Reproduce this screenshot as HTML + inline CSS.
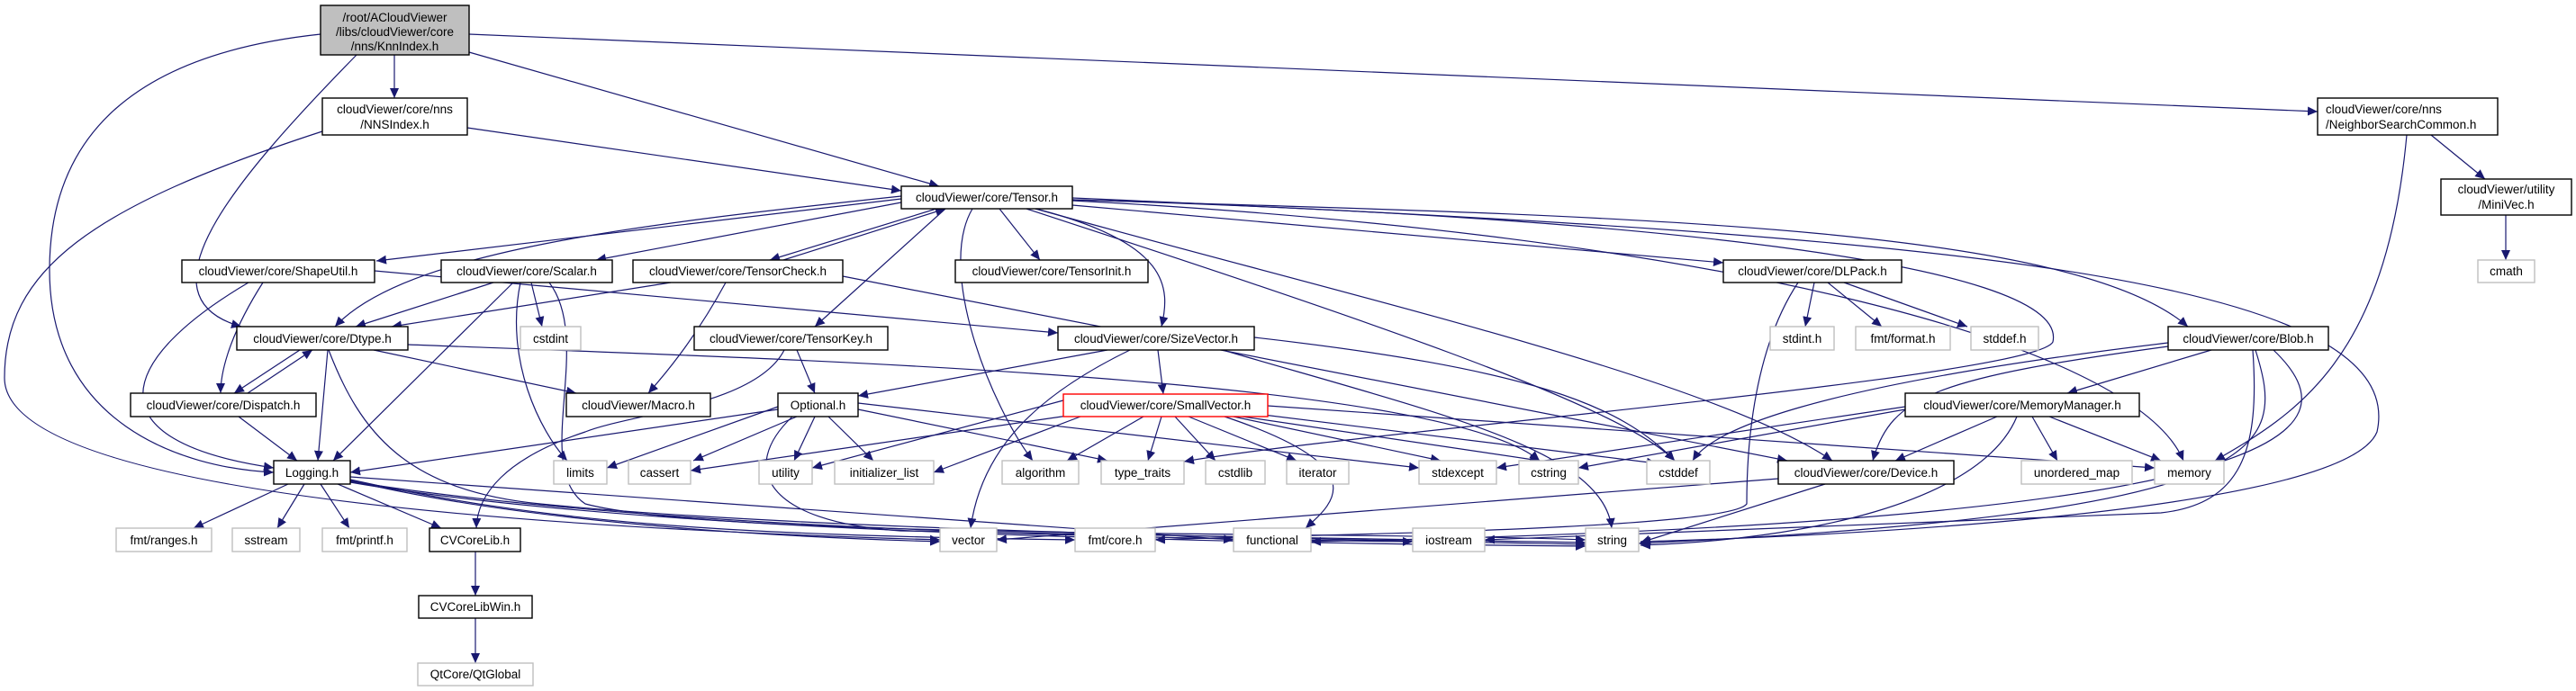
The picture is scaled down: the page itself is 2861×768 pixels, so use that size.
<!DOCTYPE html>
<html><head><meta charset="utf-8"><style>
html,body{margin:0;padding:0;background:#fff;}
svg{display:block;}
text{font-family:"Liberation Sans",sans-serif;font-size:13.5px;fill:#000;}
.n{fill:#fff;stroke:#000;stroke-width:1.4;}
.g{fill:#fff;stroke:#bfbfbf;stroke-width:1.4;}
.e{fill:none;stroke:#191970;stroke-width:1.2;}
</style></head><body>
<svg width="2861" height="768" viewBox="0 0 2861 768" xmlns="http://www.w3.org/2000/svg">
<defs><marker id="a" markerUnits="userSpaceOnUse" markerWidth="12" markerHeight="10" refX="11" refY="5" orient="auto"><path d="M0,0 L11,5 L0,10 z" fill="#191970"/></marker></defs>
<g class="e" marker-end="url(#a)">
<path d="M356,38 C150,60 55,150 55,300 C55,470 200,520 304,525"/>
<path d="M396,61 C260,200 150,330 268,363"/>
<path d="M438,61 L438,109"/>
<path d="M521,58 L1043,207"/>
<path d="M521,38 L2574,124"/>
<path d="M519,142 L1001,212"/>
<path d="M358,146 C100,230 5,300 5,420 C5,560 700,590 1044,600"/>
<path d="M1001,221 L418,290"/>
<path d="M1001,225 L662,289"/>
<path d="M1040,232 L855,289"/>
<path d="M870,289 L1050,232"/>
<path d="M1001,218 C700,250 450,280 372,363"/>
<path d="M1050,232 L905,363"/>
<path d="M1110,232 L1155,289"/>
<path d="M1150,232 C1300,270 1300,320 1290,363"/>
<path d="M1080,232 C1040,300 1100,450 1147,512"/>
<path d="M1191,228 L1914,292"/>
<path d="M1191,222 C1800,240 2300,250 2430,363"/>
<path d="M1150,232 C1500,330 1900,420 2035,512"/>
<path d="M1191,223 C1900,260 2370,380 2425,512"/>
<path d="M1191,220 C2100,260 2680,300 2640,480 C2600,580 1900,600 1822,602"/>
<path d="M1140,232 C1500,350 1800,450 1860,512"/>
<path d="M1191,222 C1800,240 2300,290 2280,380 C2260,420 1500,480 1315,513"/>
<path d="M416,301 L1175,370"/>
<path d="M292,314 C250,380 245,420 245,437"/>
<path d="M276,314 C130,400 100,490 304,520"/>
<path d="M548,314 L395,363"/>
<path d="M590,314 L602,363"/>
<path d="M578,314 C560,400 600,480 630,512"/>
<path d="M570,314 L370,512"/>
<path d="M610,314 C660,380 590,520 650,560 C800,600 1500,590 1761,600"/>
<path d="M745,314 L435,363"/>
<path d="M806,314 C770,380 735,420 720,437"/>
<path d="M936,307 L1985,512"/>
<path d="M333,389 L260,437"/>
<path d="M275,437 L347,389"/>
<path d="M364,389 L353,512"/>
<path d="M415,389 L640,437"/>
<path d="M453,383 C900,400 1600,420 1710,512"/>
<path d="M365,389 C400,480 450,545 600,560 C900,590 1500,600 1761,605"/>
<path d="M885,389 L905,437"/>
<path d="M871,389 C840,450 700,460 650,480 C560,510 530,550 529,587"/>
<path d="M265,463 L330,512"/>
<path d="M320,538 L215,587"/>
<path d="M338,538 L308,587"/>
<path d="M356,538 L388,587"/>
<path d="M375,538 L490,587"/>
<path d="M389,533 C600,580 800,595 1194,600"/>
<path d="M389,530 L1370,600"/>
<path d="M389,535 C700,585 1200,598 1569,602"/>
<path d="M389,536 C700,590 1300,603 1761,607"/>
<path d="M389,534 C600,585 900,598 1044,602"/>
<path d="M528,613 L528,662"/>
<path d="M528,687 L528,737"/>
<path d="M864,455 L389,525"/>
<path d="M864,452 L674,520"/>
<path d="M885,463 L770,512"/>
<path d="M905,463 L882,512"/>
<path d="M920,463 L970,512"/>
<path d="M953,455 L1230,512"/>
<path d="M953,448 L1576,520"/>
<path d="M880,463 C820,520 850,580 1000,590 L1761,603"/>
<path d="M1230,389 L953,440"/>
<path d="M1286,389 L1292,438"/>
<path d="M1255,389 C1150,440 1090,500 1078,587"/>
<path d="M1393,375 C1700,410 1800,450 1860,512"/>
<path d="M1358,389 C1600,460 1780,500 1790,587"/>
<path d="M1181,445 L902,520"/>
<path d="M1200,463 L1037,525"/>
<path d="M1270,463 L1185,512"/>
<path d="M1290,463 L1275,512"/>
<path d="M1305,463 L1350,512"/>
<path d="M1320,463 L1440,512"/>
<path d="M1370,463 L1600,512"/>
<path d="M1380,463 L1710,512"/>
<path d="M1395,460 L1840,515"/>
<path d="M1408,451 L2393,520"/>
<path d="M1360,463 C1530,520 1480,560 1450,587"/>
<path d="M1200,460 L767,523"/>
<path d="M2015,314 L2005,363"/>
<path d="M2030,314 L2090,363"/>
<path d="M2048,314 L2185,363"/>
<path d="M1997,314 C1940,400 1940,530 1940,560 C1920,590 1400,595 1283,600"/>
<path d="M2456,389 L2296,437"/>
<path d="M2408,385 C2150,420 2100,440 2080,512"/>
<path d="M2408,381 C2000,430 1900,480 1880,512"/>
<path d="M2502,389 C2510,500 2490,560 2400,570 L1649,600"/>
<path d="M2505,389 C2540,500 2530,570 1820,604"/>
<path d="M2525,389 C2620,480 2560,580 1456,602"/>
<path d="M2218,463 L2105,512"/>
<path d="M2257,463 L2285,512"/>
<path d="M2276,463 L2400,512"/>
<path d="M2116,455 L1753,520"/>
<path d="M2116,452 L1662,520"/>
<path d="M2240,463 C2200,560 2000,600 1822,606"/>
<path d="M2027,538 L1822,603"/>
<path d="M1975,532 L1107,600"/>
<path d="M2700,150 L2760,199"/>
<path d="M2673,150 C2650,400 2550,460 2460,512"/>
<path d="M2783,239 L2783,289"/>
</g>
<g>
<rect x="356" y="6" width="165" height="55" fill="#bfbfbf" stroke="#000" stroke-width="1.4"/>
<text x="438.5" y="24" text-anchor="middle">/root/ACloudViewer</text>
<text x="438.5" y="40" text-anchor="middle">/libs/cloudViewer/core</text>
<text x="438.5" y="56" text-anchor="middle">/nns/KnnIndex.h</text>
<rect class="n" x="358" y="109" width="161" height="41"/>
<text x="438.5" y="126" text-anchor="middle">cloudViewer/core/nns</text>
<text x="438.5" y="143" text-anchor="middle">/NNSIndex.h</text>
<rect class="n" x="2574" y="109" width="200" height="41"/>
<text x="2583" y="126">cloudViewer/core/nns</text>
<text x="2583" y="143">/NeighborSearchCommon.h</text>
<rect class="n" x="2711" y="199" width="145" height="40"/>
<text x="2783.5" y="215" text-anchor="middle">cloudViewer/utility</text>
<text x="2783.5" y="232" text-anchor="middle">/MiniVec.h</text>
</g>
<g font-size="13.5">
<!-- black single-line nodes -->
<rect class="n" x="1001" y="207" width="190" height="25"/><text x="1096" y="224" text-anchor="middle">cloudViewer/core/Tensor.h</text>
<rect class="n" x="202" y="289" width="214" height="25"/><text x="309" y="306" text-anchor="middle">cloudViewer/core/ShapeUtil.h</text>
<rect class="n" x="490" y="289" width="190" height="25"/><text x="585" y="306" text-anchor="middle">cloudViewer/core/Scalar.h</text>
<rect class="n" x="703" y="289" width="233" height="25"/><text x="819.5" y="306" text-anchor="middle">cloudViewer/core/TensorCheck.h</text>
<rect class="n" x="1061" y="289" width="214" height="25"/><text x="1168" y="306" text-anchor="middle">cloudViewer/core/TensorInit.h</text>
<rect class="n" x="1914" y="289" width="198" height="25"/><text x="2013" y="306" text-anchor="middle">cloudViewer/core/DLPack.h</text>
<rect class="n" x="263" y="363" width="190" height="26"/><text x="358" y="381" text-anchor="middle">cloudViewer/core/Dtype.h</text>
<rect class="n" x="771" y="363" width="215" height="26"/><text x="878.5" y="381" text-anchor="middle">cloudViewer/core/TensorKey.h</text>
<rect class="n" x="1175" y="363" width="218" height="26"/><text x="1284" y="381" text-anchor="middle">cloudViewer/core/SizeVector.h</text>
<rect class="n" x="2408" y="363" width="178" height="26"/><text x="2497" y="381" text-anchor="middle">cloudViewer/core/Blob.h</text>
<rect class="n" x="145" y="437" width="206" height="26"/><text x="248" y="455" text-anchor="middle">cloudViewer/core/Dispatch.h</text>
<rect class="n" x="629" y="437" width="160" height="26"/><text x="709" y="455" text-anchor="middle">cloudViewer/Macro.h</text>
<rect class="n" x="864" y="437" width="89" height="26"/><text x="908.5" y="455" text-anchor="middle">Optional.h</text>
<rect x="1181" y="438" width="227" height="25" fill="#fff" stroke="#ff0000" stroke-width="1.4"/><text x="1294.5" y="455" text-anchor="middle">cloudViewer/core/SmallVector.h</text>
<rect class="n" x="2116" y="437" width="260" height="26"/><text x="2246" y="455" text-anchor="middle">cloudViewer/core/MemoryManager.h</text>
<rect class="n" x="304" y="512" width="85" height="26"/><text x="346.5" y="530" text-anchor="middle">Logging.h</text>
<rect class="n" x="1975" y="512" width="195" height="26"/><text x="2072.5" y="530" text-anchor="middle">cloudViewer/core/Device.h</text>
<rect class="n" x="477" y="587" width="101" height="26"/><text x="527.5" y="605" text-anchor="middle">CVCoreLib.h</text>
<rect class="n" x="465" y="662" width="126" height="25"/><text x="528" y="679" text-anchor="middle">CVCoreLibWin.h</text>
<!-- gray nodes -->
<rect class="g" x="2752" y="289" width="63" height="25"/><text x="2783.5" y="306" text-anchor="middle">cmath</text>
<rect class="g" x="578" y="363" width="67" height="26"/><text x="611.5" y="381" text-anchor="middle">cstdint</text>
<rect class="g" x="1966" y="363" width="71" height="26"/><text x="2001.5" y="381" text-anchor="middle">stdint.h</text>
<rect class="g" x="2061" y="363" width="105" height="26"/><text x="2113.5" y="381" text-anchor="middle">fmt/format.h</text>
<rect class="g" x="2189" y="363" width="75" height="26"/><text x="2226.5" y="381" text-anchor="middle">stddef.h</text>
<rect class="g" x="615" y="512" width="59" height="26"/><text x="644.5" y="530" text-anchor="middle">limits</text>
<rect class="g" x="698" y="512" width="69" height="26"/><text x="732.5" y="530" text-anchor="middle">cassert</text>
<rect class="g" x="843" y="512" width="59" height="26"/><text x="872.5" y="530" text-anchor="middle">utility</text>
<rect class="g" x="927" y="512" width="110" height="26"/><text x="982" y="530" text-anchor="middle">initializer_list</text>
<rect class="g" x="1113" y="512" width="85" height="26"/><text x="1155.5" y="530" text-anchor="middle">algorithm</text>
<rect class="g" x="1223" y="512" width="92" height="26"/><text x="1269" y="530" text-anchor="middle">type_traits</text>
<rect class="g" x="1339" y="512" width="66" height="26"/><text x="1372" y="530" text-anchor="middle">cstdlib</text>
<rect class="g" x="1429" y="512" width="69" height="26"/><text x="1463.5" y="530" text-anchor="middle">iterator</text>
<rect class="g" x="1576" y="512" width="86" height="26"/><text x="1619" y="530" text-anchor="middle">stdexcept</text>
<rect class="g" x="1687" y="512" width="66" height="26"/><text x="1720" y="530" text-anchor="middle">cstring</text>
<rect class="g" x="1829" y="512" width="70" height="26"/><text x="1864" y="530" text-anchor="middle">cstddef</text>
<rect class="g" x="2245" y="512" width="123" height="26"/><text x="2306.5" y="530" text-anchor="middle">unordered_map</text>
<rect class="g" x="2393" y="512" width="77" height="26"/><text x="2431.5" y="530" text-anchor="middle">memory</text>
<rect class="g" x="129" y="587" width="106" height="26"/><text x="182" y="605" text-anchor="middle">fmt/ranges.h</text>
<rect class="g" x="258" y="587" width="75" height="26"/><text x="295.5" y="605" text-anchor="middle">sstream</text>
<rect class="g" x="358" y="587" width="94" height="26"/><text x="405" y="605" text-anchor="middle">fmt/printf.h</text>
<rect class="g" x="1044" y="587" width="63" height="26"/><text x="1075.5" y="605" text-anchor="middle">vector</text>
<rect class="g" x="1194" y="587" width="89" height="26"/><text x="1238.5" y="605" text-anchor="middle">fmt/core.h</text>
<rect class="g" x="1370" y="587" width="86" height="26"/><text x="1413" y="605" text-anchor="middle">functional</text>
<rect class="g" x="1569" y="587" width="80" height="26"/><text x="1609" y="605" text-anchor="middle">iostream</text>
<rect class="g" x="1761" y="587" width="59" height="26"/><text x="1790.5" y="605" text-anchor="middle">string</text>
<rect class="g" x="464" y="737" width="128" height="25"/><text x="528" y="754" text-anchor="middle">QtCore/QtGlobal</text>
</g>
</svg>
</body></html>
